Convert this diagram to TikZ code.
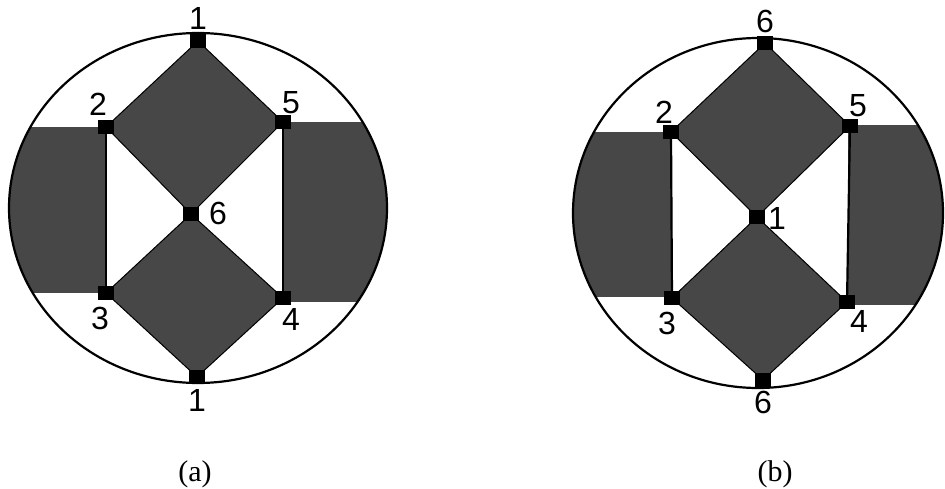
\documentclass[tikz,border=0pt]{standalone}
\usepackage{fontspec}
\setmainfont{Liberation Serif}
\newfontfamily\labfont{Liberation Sans}
\pgfdeclarelayer{background}
\pgfsetlayers{background,main}
\begin{document}
\begin{tikzpicture}[x=1pt,y=-1pt,
  term/.style={fill=black,minimum width=16pt,minimum height=14pt,inner sep=0pt},
  region/.style={fill=black!72},
  diaedge/.style={draw=black,line width=1pt},
  rim/.style={draw=black,line width=2.2pt},
  wire/.style={draw=black,line width=2.2pt},
  lab/.style={font=\labfont\fontsize{32}{34}\selectfont,inner sep=0pt},
  captext/.style={font=\fontsize{30}{32}\selectfont,inner sep=0pt}]
\useasboundingbox (0,0) rectangle (945,489);

% ---------- panel (a) ----------
\node[term] (a1t) at (198,41) {};
\node[term] (a2) at (106,127) {};
\node[term] (a5) at (283,122) {};
\node[term] (a6) at (191,214) {};
\node[term] (a3) at (106,293) {};
\node[term] (a4) at (283,298) {};
\node[term] (a1b) at (197,377) {};
\begin{pgfonlayer}{background}
  \begin{scope}
    \clip (198,208) ellipse [x radius=189pt, y radius=175pt];
    \fill[region] (0,127) rectangle (106,293);
    \fill[region] (283,122) rectangle (420,302);
  \end{scope}
  \filldraw[region,diaedge] (a1t.center) -- (a2.center) -- (a6.center) -- (a5.center) -- cycle;
  \filldraw[region,diaedge] (a6.center) -- (a3.center) -- (a1b.center) -- (a4.center) -- cycle;
\end{pgfonlayer}
\draw[wire] (a2) -- (a3);
\draw[wire] (a5) -- (a4);
\draw[rim] (198,208) ellipse [x radius=189pt, y radius=175pt];
\node[lab] (la1t) at (198,18) {1};
\node[lab] (la2) at (98,104) {2};
\node[lab] (la5) at (291,103) {5};
\node[lab] (la6) at (218,213) {6};
\node[lab] (la3) at (100,318) {3};
\node[lab] (la4) at (291,319) {4};
\node[lab] (la1b) at (197,400) {1};
\node[captext] (capa) at (195,474) {(a)};

% ---------- panel (b) ----------
\node[term] (b6t) at (765,43) {};
\node[term] (b2) at (671,132) {};
\node[term] (b5) at (850,126) {};
\node[term] (b1) at (757,217) {};
\node[term] (b3) at (672,298) {};
\node[term] (b4) at (847,302) {};
\node[term] (b6b) at (763,380) {};
\begin{pgfonlayer}{background}
  \begin{scope}
    \clip (758,213) ellipse [x radius=185pt, y radius=175pt];
    \fill[region] (500,132) rectangle (671,297);
    \fill[region] (848,125) rectangle (1000,305);
  \end{scope}
  \filldraw[region,diaedge] (b6t.center) -- (b2.center) -- (b1.center) -- (b5.center) -- cycle;
  \filldraw[region,diaedge] (b1.center) -- (b3.center) -- (b6b.center) -- (b4.center) -- cycle;
\end{pgfonlayer}
\draw[wire] (b2) -- (b3);
\draw[wire] (b5) -- (b4);
\draw[rim] (758,213) ellipse [x radius=185pt, y radius=175pt];
\node[lab] (lb6t) at (765,21) {6};
\node[lab] (lb2) at (664,112) {2};
\node[lab] (lb5) at (858,106) {5};
\node[lab] (lb1) at (777,218) {1};
\node[lab] (lb3) at (667,323) {3};
\node[lab] (lb4) at (859,321) {4};
\node[lab] (lb6b) at (763,402) {6};
\node[captext] (capb) at (775,474) {(b)};
\end{tikzpicture}
\end{document}
